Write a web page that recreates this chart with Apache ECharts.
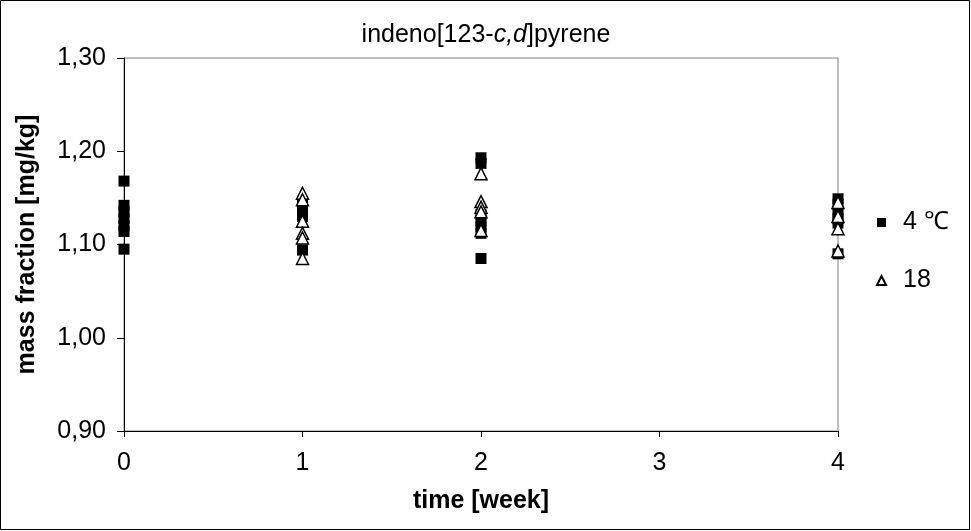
<!DOCTYPE html>
<html><head><meta charset="utf-8">
<script src="https://cdn.jsdelivr.net/npm/echarts@6/dist/echarts.min.js"></script>
<style>html,body{margin:0;padding:0;background:#fff}#c{width:971px;height:531px}</style>
</head><body><div id="c"></div>
<script>
const seriesNames = ['4 \u2103', '18'];
const weeks = [0, 1, 2, 4];
const yTicks = [0.90, 1.00, 1.10, 1.20, 1.30];
// values per week for 4 °C
const cold_w0 = [1.168, 1.142, 1.135, 1.128, 1.120, 1.114, 1.095];
const cold_w1 = [1.146, 1.140, 1.135, 1.130, 1.094];
const cold_w2 = [1.193, 1.187, 1.132, 1.125, 1.119, 1.112, 1.085];
const cold_w4 = [1.149, 1.143, 1.135, 1.128, 1.123, 1.090];
// values per week for 18 °C
const warm_w1 = [1.155, 1.148, 1.125, 1.112, 1.107, 1.085];
const warm_w2 = [1.176, 1.146, 1.140, 1.135, 1.115];
const warm_w4 = [1.145, 1.130, 1.117, 1.093];

function pts(week, arr){ return arr.map(v => [week, v]); }
const coldData = [].concat(pts(weeks[0], cold_w0), pts(weeks[1], cold_w1), pts(weeks[2], cold_w2), pts(weeks[3], cold_w4));
const warmData = [].concat(pts(weeks[1], warm_w1), pts(weeks[2], warm_w2), pts(weeks[3], warm_w4));

const FONT = 'Liberation Sans, Arial, sans-serif';
const FS = 25;
const chart = echarts.init(document.getElementById('c'), null, {renderer: 'canvas'});
chart.setOption({
  animation: false,
  backgroundColor: '#fff',
  graphic: [{type: 'rect', shape: {x: 0.5, y: 0.5, width: 969, height: 529}, style: {fill: 'none', stroke: '#000', lineWidth: 1}, z: -1}],
  title: {
    text: '{a|indeno[123-}{i|c,d}{a|]pyrene}',
    left: 481, top: 18, textAlign: 'center',
    textStyle: {fontWeight: 'normal', rich: {
      a: {fontFamily: FONT, fontSize: FS, fontWeight: 'normal', color: '#000'},
      i: {fontFamily: FONT, fontSize: FS, fontWeight: 'normal', fontStyle: 'italic', color: '#000'}}}
  },
  legend: {
    orient: 'vertical', left: 871, top: 205, itemGap: 33, itemWidth: 9, itemHeight: 9,
    data: seriesNames,
    textStyle: {fontFamily: FONT, fontSize: FS, lineHeight: 25, color: '#000', padding: [0, 0, 0, 12]}
  },
  grid: {left: 124, right: 133, top: 58, bottom: 100, show: true, borderColor: '#808080', borderWidth: 1},
  xAxis: {
    type: 'value', min: 0, max: 4, interval: 1,
    name: 'time [week]', nameLocation: 'middle', nameGap: 58,
    nameTextStyle: {fontFamily: FONT, fontSize: FS, fontWeight: 'bold', color: '#000'},
    axisLine: {lineStyle: {color: '#000', width: 1}},
    axisTick: {show: true, length: 6, lineStyle: {color: '#000'}},
    axisLabel: {fontFamily: FONT, fontSize: FS, color: '#000', margin: 20},
    splitLine: {show: false}
  },
  yAxis: {
    type: 'value', min: yTicks[0], max: yTicks[yTicks.length - 1], interval: 0.1,
    name: 'mass fraction [mg/kg]', nameLocation: 'middle', nameGap: 84,
    nameTextStyle: {fontFamily: FONT, fontSize: FS, fontWeight: 'bold', color: '#000'},
    axisLine: {show: true, lineStyle: {color: '#000', width: 1}},
    axisTick: {show: true, length: 7, lineStyle: {color: '#000'}},
    axisLabel: {fontFamily: FONT, fontSize: FS, color: '#000', margin: 18,
      formatter: v => v.toFixed(2).replace('.', ',')},
    splitLine: {show: false}
  },
  series: [
    {name: seriesNames[0], type: 'scatter', data: coldData, symbol: 'rect', symbolSize: 11,
     itemStyle: {color: '#000', opacity: 1}},
    {name: seriesNames[1], type: 'scatter', data: warmData, symbol: 'triangle', symbolSize: 12,
     itemStyle: {color: '#fff', borderColor: '#000', borderWidth: 1.5, opacity: 1}}
  ]
});
</script></body></html>
